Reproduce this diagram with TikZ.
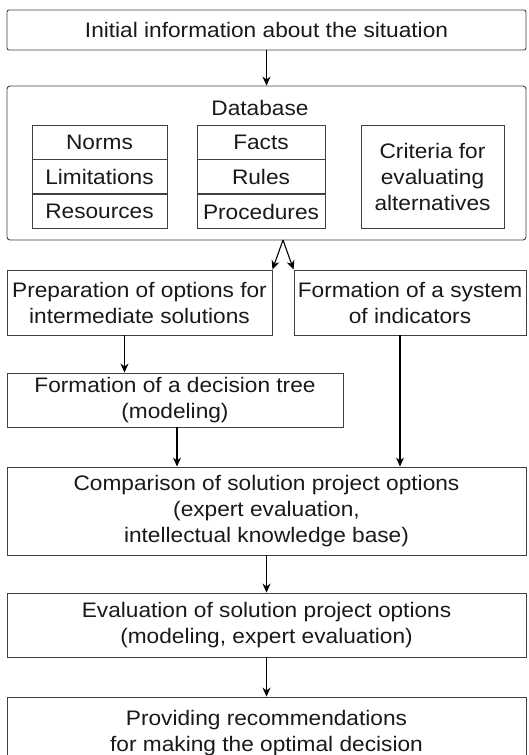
\documentclass[tikz,border=0pt]{standalone}
\usepackage{fontspec}
\newfontfamily\diagfont[FakeStretch=1.08]{Liberation Sans}
\usepackage{tikz}
\usetikzlibrary{arrows.meta,positioning}

\begin{document}
\begin{tikzpicture}[x=1pt,y=-1pt,->,>={Stealth[length=9pt,width=8pt]},
                    line width=0.9pt]
  \tikzstyle{block}=[draw=black!75,rectangle,inner sep=0pt,align=center,
                     font=\diagfont\fontsize{21}{26}\selectfont,text=black!90]
  \tikzstyle{cell}=[block,minimum width=135pt,minimum height=34pt]
  \tikzstyle{link}=[draw=black,line width=1.1pt]

  \clip (0,0) rectangle (528,755);

  \node[block,minimum width=519pt,minimum height=40pt,rounded corners=2pt]
        (info) at (266.5,30) {Initial information about the situation};
  \node[block,minimum width=519pt,minimum height=154pt,rounded corners=3pt]
        (db) at (266.5,163) {};
  \node[font=\diagfont\fontsize{21}{26}\selectfont,text=black!90]
        (dbtitle) at (260,108) {Database};

  % database contents
  \node[cell] (norms) at (99.5,142) {Norms};
  \node[cell] (limits) [below=0pt of norms] {Limitations};
  \node[cell] (res)    [below=0pt of limits] {Resources};
  \node[cell,minimum width=128pt] (facts) at (261,142) {Facts};
  \node[cell,minimum width=128pt] (rules) [below=0pt of facts] {Rules};
  \node[cell,minimum width=128pt] (proc)  [below=0pt of rules] {Procedures};
  \node[block,minimum width=143pt,minimum height=103pt] (crit) at (432.5,176.5)
        {Criteria for\\evaluating\\alternatives};

  \node[block,minimum width=265pt,minimum height=65pt] (prep) at (139.5,302.5)
        {Preparation of options for\\intermediate solutions};
  \node[block,minimum width=232pt,minimum height=65pt] (sys) at (410,302.5)
        {Formation of a system\\of indicators};
  \node[block,minimum width=336pt,minimum height=54pt] (tree) at (175,400)
        {Formation of a decision tree\\(modeling)};
  \node[block,minimum width=519pt,minimum height=88pt] (comp) at (266.5,511)
        {Comparison of solution project options\\(expert evaluation,\\intellectual knowledge base)};
  \node[block,minimum width=519pt,minimum height=64pt] (eval) at (266.5,625)
        {Evaluation of solution project options\\(modeling, expert evaluation)};
  \node[block,minimum width=519pt,minimum height=72pt] (rec) at (266.5,733)
        {Providing recommendations\\for making the optimal decision};

  \coordinate (apex) at (283,240);

  \path (info) edge[link] (db)
        (apex) edge[link] (prep.north east)
        (apex) edge[link] (sys.north west)
        ([xshift=-15pt]prep.south) edge[link] ([xshift=-15pt]prep.south |- tree.north)
        ([xshift=2pt]tree.south) edge[link] ([xshift=2pt]tree.south |- comp.north)
        ([xshift=-10pt]sys.south) edge[link] ([xshift=-10pt]sys.south |- comp.north)
        (comp) edge[link] (eval)
        (eval) edge[link] (rec);
\end{tikzpicture}
\end{document}
